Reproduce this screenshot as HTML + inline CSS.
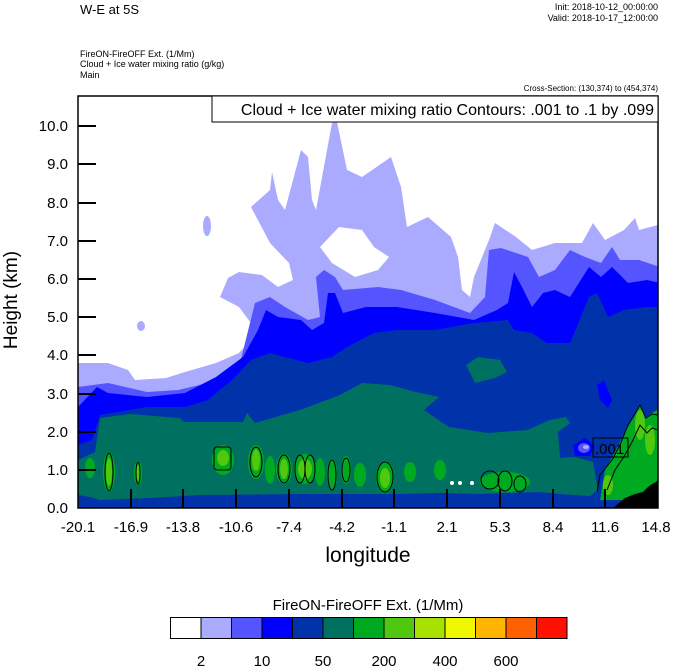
<!DOCTYPE html>
<html><head><meta charset="utf-8"><style>
html,body{margin:0;padding:0;background:#fff;}
svg{display:block;font-family:"Liberation Sans",Arial,sans-serif;}
</style></head><body>
<svg width="674" height="667" viewBox="0 0 674 667" xmlns="http://www.w3.org/2000/svg">
<defs><clipPath id="c"><rect x="78" y="96" width="580" height="412"/></clipPath></defs>
<text x="80" y="14" font-size="13">W-E at 5S</text>
<text x="658" y="10" font-size="9" text-anchor="end">Init: 2018-10-12_00:00:00</text>
<text x="658" y="21" font-size="9" text-anchor="end">Valid: 2018-10-17_12:00:00</text>
<text x="80" y="57" font-size="9">FireON-FireOFF Ext.   (1/Mm)</text>
<text x="80" y="67" font-size="9">Cloud + Ice water mixing ratio   (g/kg)</text>
<text x="80" y="78" font-size="9">Main</text>
<text x="658" y="91" font-size="8" text-anchor="end">Cross-Section: (130,374) to (454,374)</text>
<g clip-path="url(#c)">
<rect x="78" y="96" width="580" height="412" fill="#fff"/>
<path fill="#aaaaff" d="M78,363 L108,363 128,370 135,380 166,378 185,372 216,363 239,353 251,340 251,323 239,307 220,297 228,278 239,272 262,275 278,287 293,280 289,263 270,243 251,207 270,190 272,172 278,200 285,210 301,150 308,157 312,200 316,210 332,123 337,122 347,170 362,177 391,157 401,187 407,227 428,217 451,237 458,257 462,290 470,297 474,277 489,240 495,223 516,237 532,250 555,243 582,243 593,223 605,240 624,230 635,218 639,230 658,225 L660,508 78,508Z"/>
<path fill="#fff" d="M320,247 339,227 362,230 374,247 389,257 378,270 355,277 332,263Z"/>
<ellipse cx="207" cy="226" rx="4" ry="10" fill="#aaaaff"/>
<ellipse cx="141" cy="326" rx="4" ry="5" fill="#aaaaff"/>
<path fill="#5555ff" d="M78,387 L108,383 147,392 178,390 208,383 239,367 255,303 270,297 285,307 308,320 320,317 316,277 324,270 335,277 343,290 378,287 401,290 435,300 470,313 485,297 489,250 501,248 528,257 539,277 555,270 570,250 585,257 601,263 612,247 620,260 639,260 660,267 L660,508 78,508Z"/>
<path fill="#0000ff" d="M78,407 L97,387 108,393 147,397 185,393 216,377 243,357 258,330 266,310 278,317 301,320 312,330 324,323 328,293 335,293 343,313 366,307 397,307 435,313 474,320 497,310 508,303 514,272 522,287 532,307 543,293 555,290 570,297 589,267 601,277 612,267 628,283 647,280 660,283 L660,508 78,508Z"/>
<path fill="#0033aa" d="M78,445 L92,440 100,415 147,407 185,407 208,400 232,380 251,360 270,353 285,357 308,363 332,357 347,347 374,333 397,330 435,330 474,323 508,320 514,330 532,333 547,343 570,343 589,297 597,293 608,317 624,310 647,307 660,307 L660,508 78,508Z"/>
<path fill="#0000ff" d="M597,385 604,380 612,400 608,408 600,400Z"/>
<path fill="#0000ff" d="M573,445 585,438 595,446 590,456 575,456Z"/>
<ellipse cx="584" cy="448" rx="6" ry="5" fill="#5555ff"/>
<ellipse cx="586" cy="447" rx="3" ry="2" fill="#aaaaff"/>
<path fill="#007060" d="M466,365 478,357 500,360 507,372 495,378 475,383Z"/>
<path fill="#007060" d="M78,460 L95,452 100,418 130,414 180,418 184,422 243,422 247,413 255,423 300,410 340,395 362,383 390,385 416,392 439,397 424,410 434,417 449,427 488,433 527,430 550,420 566,417 570,423 558,432 560,458 575,457 593,462 598,490 590,496 560,494 540,492 480,494 440,493 400,494 300,494 200,495 150,498 100,500 90,497 78,495Z"/>
<g fill="#00aa20">
<path d="M600,500 605,470 615,452 625,432 635,415 640,404 645,418 652,413 660,408 660,500Z"/>
<ellipse cx="109" cy="472" rx="6" ry="20"/><ellipse cx="138" cy="473" rx="4" ry="12"/>
<ellipse cx="223" cy="460" rx="11" ry="15"/><ellipse cx="256" cy="462" rx="8" ry="17"/>
<ellipse cx="284" cy="469" rx="8" ry="15"/><ellipse cx="305" cy="469" rx="11" ry="15"/>
<ellipse cx="332" cy="474" rx="5" ry="15"/><ellipse cx="346" cy="470" rx="5" ry="14"/>
<ellipse cx="385" cy="477" rx="9" ry="16"/><ellipse cx="505" cy="482" rx="25" ry="10"/>
<ellipse cx="90" cy="468" rx="5" ry="10"/><ellipse cx="320" cy="472" rx="5" ry="14"/>
<ellipse cx="360" cy="475" rx="6" ry="12"/><ellipse cx="410" cy="472" rx="6" ry="10"/>
<ellipse cx="440" cy="470" rx="6" ry="10"/><ellipse cx="270" cy="470" rx="5" ry="14"/>
</g>
<g fill="#50c810">
<ellipse cx="109" cy="472" rx="3" ry="14"/><ellipse cx="138" cy="473" rx="2" ry="8"/>
<ellipse cx="223" cy="458" rx="6" ry="8"/><ellipse cx="256" cy="460" rx="4" ry="11"/>
<ellipse cx="284" cy="469" rx="4" ry="10"/><ellipse cx="305" cy="469" rx="7" ry="10"/>
<ellipse cx="385" cy="478" rx="5" ry="10"/><ellipse cx="640" cy="425" rx="5" ry="15"/>
<ellipse cx="608" cy="485" rx="5" ry="10"/><ellipse cx="650" cy="440" rx="5" ry="15"/>
</g>
<g fill="#fff"><circle cx="452" cy="483" r="2"/><circle cx="460" cy="483" r="2"/><circle cx="472" cy="483" r="2"/></g>
<path fill="#000" d="M613,508 625,498 635,494 643,492 648,487 652,484 656,482 658,480 658,508Z"/>
<g fill="none" stroke="#000" stroke-width="1">
<ellipse cx="109" cy="472" rx="4" ry="19"/><ellipse cx="138" cy="473" rx="2" ry="11"/>
<rect x="214" y="447" width="17" height="23" rx="3"/><ellipse cx="256" cy="462" rx="6" ry="15"/>
<ellipse cx="284" cy="469" rx="6" ry="14"/><ellipse cx="300" cy="469" rx="5" ry="14"/><ellipse cx="310" cy="469" rx="5" ry="14"/>
<ellipse cx="332" cy="475" rx="4" ry="15"/><ellipse cx="346" cy="470" rx="4" ry="12"/>
<ellipse cx="385" cy="477" rx="8" ry="15"/>
<ellipse cx="490" cy="480" rx="9" ry="9"/><ellipse cx="505" cy="481" rx="7" ry="10"/><ellipse cx="520" cy="484" rx="6" ry="8"/>
<path d="M597,492 600,475 612,460 620,445 628,425 636,412 640,405 646,418 652,414 658,415"/>
<path d="M607,490 615,470 625,455 633,440 640,425 647,433 652,428 658,430"/>
</g>
<rect x="593" y="438" width="35" height="19" fill="none" stroke="#000"/>
<text x="595" y="454" font-size="15">.001</text>
</g>
<rect x="78" y="96" width="580" height="412" fill="none" stroke="#000" stroke-width="1.5"/>
<rect x="212" y="96" width="446" height="26" fill="#fff" stroke="#000" stroke-width="1"/>
<text x="654" y="115" font-size="16" text-anchor="end">Cloud + Ice water mixing ratio Contours: .001 to .1 by .099</text>
<g stroke="#000" stroke-width="2">
<line x1="78" y1="470" x2="96" y2="470"/><line x1="78" y1="432" x2="96" y2="432"/><line x1="78" y1="394" x2="96" y2="394"/>
<line x1="78" y1="355" x2="96" y2="355"/><line x1="78" y1="317" x2="96" y2="317"/><line x1="78" y1="279" x2="96" y2="279"/>
<line x1="78" y1="241" x2="96" y2="241"/><line x1="78" y1="203" x2="96" y2="203"/><line x1="78" y1="164" x2="96" y2="164"/>
<line x1="78" y1="126" x2="96" y2="126"/>
<line x1="131" y1="508" x2="131" y2="489"/><line x1="183" y1="508" x2="183" y2="489"/><line x1="236" y1="508" x2="236" y2="489"/>
<line x1="289" y1="508" x2="289" y2="489"/><line x1="342" y1="508" x2="342" y2="489"/><line x1="394" y1="508" x2="394" y2="489"/>
<line x1="447" y1="508" x2="447" y2="489"/><line x1="500" y1="508" x2="500" y2="489"/><line x1="553" y1="508" x2="553" y2="489"/>
<line x1="605" y1="508" x2="605" y2="489"/>
</g>
<g font-size="15" text-anchor="end">
<text x="68" y="513">0.0</text><text x="68" y="475">1.0</text><text x="68" y="437">2.0</text><text x="68" y="399">3.0</text>
<text x="68" y="360">4.0</text><text x="68" y="322">5.0</text><text x="68" y="284">6.0</text><text x="68" y="246">7.0</text>
<text x="68" y="208">8.0</text><text x="68" y="169">9.0</text><text x="68" y="131">10.0</text>
</g>
<g font-size="15" text-anchor="middle">
<text x="78" y="532">-20.1</text><text x="131" y="532">-16.9</text><text x="183" y="532">-13.8</text><text x="236" y="532">-10.6</text>
<text x="289" y="532">-7.4</text><text x="342" y="532">-4.2</text><text x="394" y="532">-1.1</text><text x="447" y="532">2.1</text>
<text x="500" y="532">5.3</text><text x="553" y="532">8.4</text><text x="605" y="532">11.6</text><text x="656" y="532">14.8</text>
</g>
<text x="368" y="562" font-size="21" text-anchor="middle">longitude</text>
<text transform="translate(17,300) rotate(-90)" font-size="19" text-anchor="middle">Height (km)</text>
<text x="368" y="610" font-size="15" text-anchor="middle">FireON-FireOFF Ext.  (1/Mm)</text>
<g stroke="#000" stroke-width="1">
<rect x="170.5" y="617.5" width="30.5" height="21" fill="#fff"/>
<rect x="201" y="617.5" width="30.5" height="21" fill="#aaaaff"/>
<rect x="231.5" y="617.5" width="30.5" height="21" fill="#5555ff"/>
<rect x="262" y="617.5" width="30.5" height="21" fill="#0000ff"/>
<rect x="292.5" y="617.5" width="30.5" height="21" fill="#0033aa"/>
<rect x="323" y="617.5" width="30.5" height="21" fill="#007060"/>
<rect x="353.5" y="617.5" width="30.5" height="21" fill="#00aa20"/>
<rect x="384" y="617.5" width="30.5" height="21" fill="#50c810"/>
<rect x="414.5" y="617.5" width="30.5" height="21" fill="#a8e000"/>
<rect x="445" y="617.5" width="30.5" height="21" fill="#f0f800"/>
<rect x="475.5" y="617.5" width="30.5" height="21" fill="#ffb400"/>
<rect x="506" y="617.5" width="30.5" height="21" fill="#ff6000"/>
<rect x="536.5" y="617.5" width="30.5" height="21" fill="#ff1000"/>
</g>
<g font-size="15" text-anchor="middle">
<text x="201" y="666">2</text><text x="262" y="666">10</text><text x="323" y="666">50</text>
<text x="384" y="666">200</text><text x="445" y="666">400</text><text x="506" y="666">600</text>
</g>
</svg>
</body></html>
